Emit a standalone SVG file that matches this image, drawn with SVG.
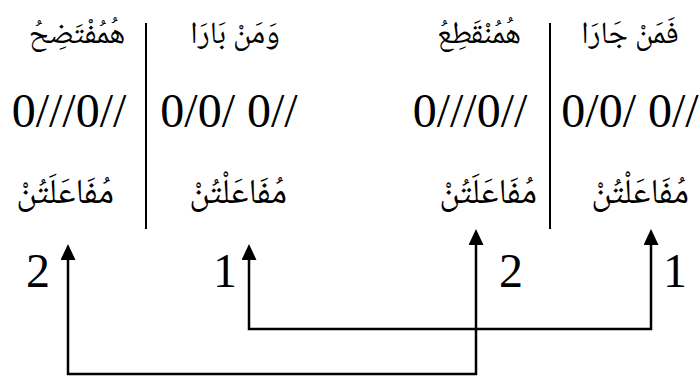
<svg xmlns="http://www.w3.org/2000/svg" width="700" height="381" viewBox="0 0 700 381">
  <style>
    .ar { font-family: "Noto Naskh Arabic", "Amiri", "DejaVu Sans", serif; fill: #000; text-anchor: middle; direction: rtl; }
    .verse { font-size: 31px; }
    .foot { font-size: 35px; }
    .num { font-family: "Liberation Serif", "Times New Roman", serif; font-size: 48px; fill: #000; text-anchor: middle; }
    .sep { stroke: #000; stroke-width: 2; }
    .conn { fill: none; stroke: #000; stroke-width: 2.5; marker-start: url(#head); marker-end: url(#head); }
  </style>
  <defs>
    <marker id="head" markerUnits="userSpaceOnUse" viewBox="0 0 16 15" refX="1" refY="7.5" markerWidth="16" markerHeight="15" orient="auto-start-reverse">
      <path d="M0,0 L16,7.5 L0,15 z" fill="#000"/>
    </marker>
  </defs>
  <rect width="700" height="381" fill="#fff"/>

  <!-- column separators -->
  <g id="separators">
    <line class="sep" x1="146" y1="23" x2="146" y2="229"/>
    <line class="sep" x1="550" y1="23" x2="550" y2="229"/>
  </g>

  <!-- first hemistich: right pair -->
  <g id="foot-r1">
    <text class="ar verse" x="630" y="43">فَمَنْ جَارَا</text>
    <text class="num" x="630" y="127">0/0/ 0//</text>
    <text class="ar foot" x="640" y="203">مُفَاعَلْتُنْ</text>
  </g>
  <g id="foot-r2">
    <text class="ar verse" x="479" y="43">هُمُنْقَطِعُ</text>
    <text class="num" x="470" y="127">0///0//</text>
    <text class="ar foot" x="488" y="203">مُفَاعَلَتُنْ</text>
  </g>

  <!-- second hemistich: left pair -->
  <g id="foot-l1">
    <text class="ar verse" x="235" y="43">وَمَنْ بَارَا</text>
    <text class="num" x="229" y="127">0/0/ 0//</text>
    <text class="ar foot" x="238" y="203">مُفَاعَلْتُنْ</text>
  </g>
  <g id="foot-l2">
    <text class="ar verse" x="77" y="43">هُمُفْتَضِحُ</text>
    <text class="num" x="69" y="127">0///0//</text>
    <text class="ar foot" x="65" y="203">مُفَاعَلَتُنْ</text>
  </g>

  <!-- correspondence numbers -->
  <g id="labels">
    <text class="num" x="38" y="287">2</text>
    <text class="num" x="225" y="287">1</text>
    <text class="num" x="511" y="287">2</text>
    <text class="num" x="675" y="287">1</text>
  </g>

  <!-- connectors linking matching feet -->
  <g id="connectors">
    <path class="conn" d="M249,259 V329 H651 V244"/>
    <path class="conn" d="M68,259 V374 H476 V244"/>
  </g>
</svg>
